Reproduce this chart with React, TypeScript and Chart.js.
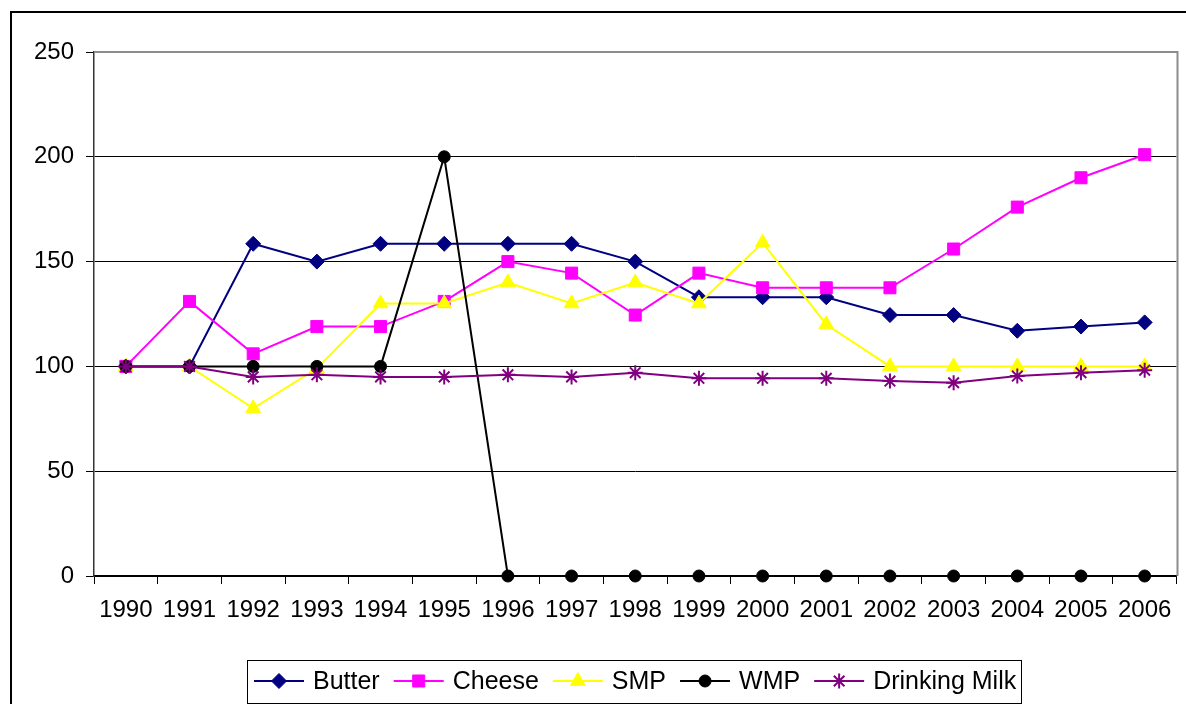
import React, { useEffect, useRef } from "react";
import { Chart, registerables } from "chart.js";
import { drawPoint } from "chart.js/helpers";

Chart.register(...registerables);

const years = ["1990", "1991", "1992", "1993", "1994", "1995", "1996", "1997", "1998", "1999", "2000", "2001", "2002", "2003", "2004", "2005", "2006"];
const butter = [100, 100, 158.5, 150, 158.5, 158.5, 158.5, 158.5, 150, 133, 133, 133, 124.5, 124.5, 117, 119, 121];
const cheese = [100, 131, 106, 119, 119, 131, 150, 144.5, 124.5, 144.5, 137.5, 137.5, 137.5, 156, 176, 190, 201];
const smp = [100, 100, 80, 99, 130, 130, 140, 130, 140, 130, 159, 120, 100, 100, 100, 100, 100];
const wmp = [100, 100, 100, 100, 100, 200, 0, 0, 0, 0, 0, 0, 0, 0, 0, 0, 0];
const drinkingMilk = [100, 100, 95, 96, 95, 95, 96, 95, 97, 94.3, 94.3, 94.3, 93, 92.2, 95.4, 97, 98.2];
const yTicks = [0, 50, 100, 150, 200, 250];

const FONT = '"Liberation Sans", Arial, sans-serif';

const seriesDefs = [
  { label: "Butter", data: butter, color: "#000080", style: "rectRot", radius: 7.5, bw: 1 },
  { label: "Cheese", data: cheese, color: "#FF00FF", style: "rect", radius: 8.5, bw: 1 },
  { label: "SMP", data: smp, color: "#FFFF00", style: "triangle", radius: 8.5, bw: 1 },
  { label: "WMP", data: wmp, color: "#000000", style: "circle", radius: 6, bw: 1 },
  { label: "Drinking Milk", data: drinkingMilk, color: "#800080", style: "star", radius: 7.5, bw: 2 },
];

const framePlugin = {
  id: "frameAndLegend",
  beforeDraw(chart: any) {
    const ctx = chart.ctx;
    ctx.save();
    ctx.fillStyle = "#fff";
    ctx.fillRect(0, 0, chart.width, chart.height);
    ctx.strokeStyle = "#000";
    ctx.lineWidth = 2;
    ctx.strokeRect(11, 12, 1300, 800);
    ctx.restore();
  },
  beforeDatasetsDraw(chart: any) {
    const ctx = chart.ctx;
    const a = chart.chartArea;
    ctx.save();
    ctx.strokeStyle = "#8c8c8c";
    ctx.lineWidth = 2;
    ctx.beginPath();
    ctx.moveTo(a.left, a.top);
    ctx.lineTo(a.right + 1, a.top);
    ctx.lineTo(a.right + 1, a.bottom);
    ctx.stroke();
    ctx.restore();
  },
  afterDraw(chart: any) {
    const ctx = chart.ctx;
    ctx.save();
    const boxLeft = 247;
    const boxTop = 660;
    const boxRight = 1021;
    const boxBottom = 703;
    ctx.strokeStyle = "#000";
    ctx.lineWidth = 1;
    ctx.strokeRect(boxLeft + 0.5, boxTop + 0.5, boxRight - boxLeft, boxBottom - boxTop);
    ctx.font = "25px " + FONT;
    ctx.textBaseline = "middle";
    const cy = 681;
    let x = 254;
    chart.data.datasets.forEach((ds: any, i: number) => {
      const def = seriesDefs[i];
      ctx.strokeStyle = def.color;
      ctx.lineWidth = 2;
      ctx.beginPath();
      ctx.moveTo(x, cy);
      ctx.lineTo(x + 50, cy);
      ctx.stroke();
      ctx.fillStyle = def.color;
      ctx.strokeStyle = def.color;
      ctx.lineWidth = def.bw;
      drawPoint(ctx, { pointStyle: def.style, radius: def.radius, rotation: 0, borderWidth: def.bw } as any, x + 25, cy);
      ctx.fillStyle = "#000";
      ctx.fillText(ds.label, x + 59, cy + 1);
      x = x + 59 + ctx.measureText(ds.label).width + 14;
    });
    ctx.restore();
  },
};

export default function App() {
  const ref = useRef<HTMLCanvasElement | null>(null);
  useEffect(() => {
    if (!ref.current) return;
    const chart = new Chart(ref.current, {
      type: "line",
      data: {
        labels: years,
        datasets: seriesDefs.map((d, i) => ({
          label: d.label,
          data: d.data,
          borderColor: d.color,
          backgroundColor: d.color,
          borderWidth: 2,
          pointStyle: d.style as any,
          pointRadius: d.radius,
          pointBorderWidth: d.bw,
          pointBackgroundColor: d.color,
          pointBorderColor: d.color,
          tension: 0,
          order: seriesDefs.length - i,
          clip: false as any,
        })),
      },
      options: {
        responsive: false,
        devicePixelRatio: 1,
        animation: false,
        layout: { padding: { top: 52, right: 3, bottom: 78, left: 0 } },
        plugins: { legend: { display: false }, tooltip: { enabled: false }, title: { display: false } },
        scales: {
          x: {
            type: "category",
            offset: true,
            afterFit: (s: any) => { s.height = 50; },
            grid: { display: true, drawOnChartArea: false, drawTicks: true, tickLength: 8, color: "#000", offset: true },
            border: { display: true, color: "#000", width: 1.5 },
            ticks: { color: "#000", font: { family: FONT, size: 24 }, padding: 12, maxRotation: 0, autoSkip: false },
          },
          y: {
            min: 0,
            max: 250,
            afterFit: (s: any) => { s.width = 94; },
            afterBuildTicks: (s: any) => { s.ticks = yTicks.map((v) => ({ value: v })); },
            grid: { color: "#000", lineWidth: 1, drawTicks: true, tickLength: 8 },
            border: { display: true, color: "#333", width: 1.5 },
            ticks: { color: "#000", font: { family: FONT, size: 24 }, padding: 12 },
          },
        },
      },
      plugins: [framePlugin],
    });
    return () => chart.destroy();
  }, []);
  return (
    <div style={{ position: "absolute", left: 0, top: 0, width: 1186, height: 704, background: "#fff" }}>
      <canvas ref={ref} width={1186} height={704} style={{ display: "block" }} />
    </div>
  );
}
